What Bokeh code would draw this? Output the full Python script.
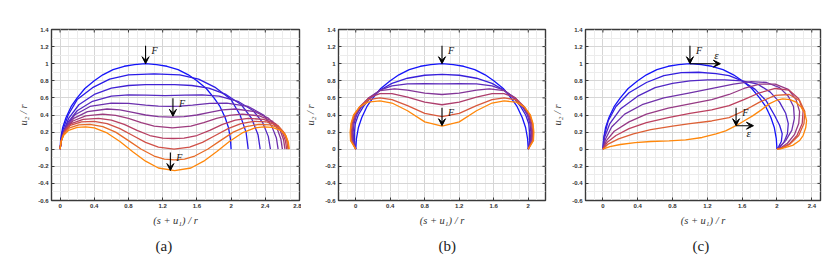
from bokeh.plotting import figure
from bokeh.models import Range1d, FixedTicker, Arrow, VeeHead, Label, Title
from bokeh.layouts import row
from bokeh.embed import file_html
from bokeh.resources import INLINE

# ---------------- data ----------------
Y_TICKS = [-0.6, -0.4, -0.2, 0, 0.2, 0.4, 0.6, 0.8, 1, 1.2, 1.4]
Y_LABELS = ["-0.6", "-0.4", "-0.2", "0", "0.2", "0.4", "0.6", "0.8", "1", "1.2", "1.4"]
XA_TICKS = [0, 0.4, 0.8, 1.2, 1.6, 2, 2.4, 2.8]
XA_LABELS = ["0", "0.4", "0.8", "1.2", "1.6", "2", "2.4", "2.8"]
XB_TICKS = [0, 0.4, 0.8, 1.2, 1.6, 2]
XB_LABELS = ["0", "0.4", "0.8", "1.2", "1.6", "2"]
XC_TICKS = [0, 0.4, 0.8, 1.2, 1.6, 2, 2.4]
XC_LABELS = ["0", "0.4", "0.8", "1.2", "1.6", "2", "2.4"]

circle_x = [0, 0.008, 0.03, 0.07, 0.13, 0.2, 0.29, 0.4, 0.5, 0.62, 0.75, 0.87, 1.0, 1.13, 1.25, 1.38, 1.5, 1.6, 1.71, 1.8, 1.87, 1.93, 1.97, 1.992, 2.0]
circle_y = [0, 0.125, 0.25, 0.37, 0.5, 0.6, 0.71, 0.8, 0.87, 0.93, 0.97, 0.99, 1.0, 0.99, 0.97, 0.93, 0.87, 0.8, 0.71, 0.6, 0.5, 0.37, 0.25, 0.125, 0]

curves_a_x = [
    circle_x,
    [0, 0.025, 0.095, 0.2, 0.38, 0.58, 0.8, 1.1, 1.4, 1.62, 1.82, 2.0, 2.105, 2.175, 2.2],
    [0, 0.025, 0.1, 0.22, 0.4, 0.6, 0.8, 1.0, 1.17, 1.34, 1.54, 1.74, 1.94, 2.12, 2.24, 2.315, 2.34],
    [0, 0.025, 0.09, 0.2, 0.38, 0.6, 0.8, 1.0, 1.23, 1.46, 1.66, 1.86, 2.08, 2.26, 2.37, 2.435, 2.46],
    [0, 0.02, 0.075, 0.17, 0.35, 0.6, 0.8, 1.0, 1.15, 1.275, 1.4, 1.55, 1.75, 1.95, 2.2, 2.38, 2.475, 2.53, 2.55],
    [0, 0.018, 0.065, 0.16, 0.32, 0.55, 0.7, 0.85, 1.0, 1.15, 1.3, 1.45, 1.6, 1.75, 1.9, 2.05, 2.28, 2.44, 2.535, 2.582, 2.6],
    [0, 0.016, 0.06, 0.15, 0.3, 0.5, 0.65, 0.8, 0.95, 1.1, 1.315, 1.53, 1.68, 1.83, 1.98, 2.13, 2.33, 2.48, 2.57, 2.614, 2.63],
    [0, 0.015, 0.055, 0.13, 0.27, 0.45, 0.6, 0.75, 0.9, 1.05, 1.2, 1.325, 1.45, 1.6, 1.75, 1.9, 2.05, 2.2, 2.38, 2.52, 2.595, 2.635, 2.65],
    [0, 0.014, 0.05, 0.12, 0.25, 0.4, 0.55, 0.7, 0.85, 1.0, 1.15, 1.333, 1.515, 1.665, 1.815, 1.965, 2.115, 2.265, 2.415, 2.545, 2.615, 2.651, 2.665],
    [0, 0.012, 0.045, 0.11, 0.22, 0.35, 0.5, 0.65, 0.8, 0.95, 1.1, 1.22, 1.338, 1.455, 1.575, 1.725, 1.875, 2.025, 2.175, 2.325, 2.455, 2.565, 2.63, 2.663, 2.675],
    [0, 0.01, 0.04, 0.1, 0.2, 0.3, 0.4, 0.55, 0.7, 0.85, 1.0, 1.15, 1.34, 1.53, 1.68, 1.83, 1.98, 2.13, 2.28, 2.38, 2.48, 2.58, 2.64, 2.67, 2.68],
]
curves_a_y = [
    circle_y,
    [0, 0.2, 0.4, 0.58, 0.72, 0.82, 0.87, 0.88, 0.87, 0.82, 0.72, 0.58, 0.4, 0.2, 0],
    [0, 0.17, 0.36, 0.52, 0.64, 0.715, 0.745, 0.755, 0.756, 0.755, 0.745, 0.715, 0.64, 0.52, 0.36, 0.17, 0],
    [0, 0.15, 0.31, 0.45, 0.56, 0.62, 0.635, 0.632, 0.627, 0.632, 0.635, 0.62, 0.56, 0.45, 0.31, 0.15, 0],
    [0, 0.13, 0.27, 0.4, 0.5, 0.54, 0.535, 0.515, 0.503, 0.5, 0.503, 0.515, 0.535, 0.54, 0.5, 0.4, 0.27, 0.13, 0],
    [0, 0.12, 0.25, 0.36, 0.44, 0.47, 0.46, 0.43, 0.4, 0.38, 0.375, 0.38, 0.4, 0.43, 0.46, 0.47, 0.44, 0.36, 0.25, 0.12, 0],
    [0, 0.11, 0.23, 0.33, 0.39, 0.41, 0.395, 0.36, 0.31, 0.27, 0.25, 0.27, 0.31, 0.36, 0.395, 0.41, 0.39, 0.33, 0.23, 0.11, 0],
    [0, 0.1, 0.21, 0.3, 0.35, 0.36, 0.34, 0.29, 0.22, 0.16, 0.13, 0.125, 0.13, 0.16, 0.22, 0.29, 0.34, 0.36, 0.35, 0.3, 0.21, 0.1, 0],
    [0, 0.1, 0.2, 0.28, 0.32, 0.325, 0.3, 0.24, 0.16, 0.08, 0.025, 0, 0.025, 0.08, 0.16, 0.24, 0.3, 0.325, 0.32, 0.28, 0.2, 0.1, 0],
    [0, 0.09, 0.18, 0.25, 0.285, 0.29, 0.265, 0.2, 0.1, 0.0, -0.08, -0.115, -0.125, -0.115, -0.08, 0.0, 0.1, 0.2, 0.265, 0.29, 0.285, 0.25, 0.18, 0.09, 0],
    [0, 0.08, 0.16, 0.22, 0.255, 0.26, 0.25, 0.19, 0.09, -0.03, -0.14, -0.22, -0.25, -0.22, -0.14, -0.03, 0.09, 0.19, 0.25, 0.26, 0.255, 0.22, 0.16, 0.08, 0],
]

curves_b_x = [
    circle_x,
    [0, -0.015, -0.015, -0.005, 0.03, 0.09, 0.17, 0.28, 0.42, 0.6, 0.8, 1.0, 1.2, 1.4, 1.58, 1.72, 1.83, 1.91, 1.97, 2.005, 2.015, 2.015, 2.0],
    [0, -0.025, -0.03, -0.02, 0.01, 0.07, 0.16, 0.28, 0.42, 0.6, 0.8, 1.0, 1.2, 1.4, 1.58, 1.72, 1.84, 1.93, 1.99, 2.02, 2.03, 2.025, 2.0],
    [0, -0.035, -0.04, -0.03, 0.0, 0.06, 0.15, 0.28, 0.45, 0.6, 0.8, 1.0, 1.2, 1.4, 1.55, 1.72, 1.85, 1.94, 2.0, 2.03, 2.04, 2.035, 2.0],
    [0, -0.045, -0.05, -0.04, -0.01, 0.05, 0.15, 0.28, 0.42, 0.6, 0.8, 1.0, 1.2, 1.4, 1.58, 1.72, 1.85, 1.95, 2.01, 2.04, 2.05, 2.045, 2.0],
    [0, -0.055, -0.06, -0.05, -0.02, 0.05, 0.15, 0.28, 0.42, 0.6, 0.8, 1.0, 1.2, 1.4, 1.58, 1.72, 1.85, 1.95, 2.02, 2.05, 2.06, 2.055, 2.0],
    [0, -0.06, -0.065, -0.055, -0.025, 0.04, 0.14, 0.28, 0.42, 0.6, 0.8, 1.0, 1.2, 1.4, 1.58, 1.72, 1.86, 1.96, 2.025, 2.055, 2.065, 2.06, 2.0],
]
curves_b_y = [
    circle_y,
    [0, 0.1, 0.2, 0.3, 0.4, 0.5, 0.6, 0.69, 0.77, 0.83, 0.865, 0.875, 0.865, 0.83, 0.77, 0.69, 0.6, 0.5, 0.4, 0.3, 0.2, 0.1, 0],
    [0, 0.1, 0.2, 0.3, 0.4, 0.5, 0.6, 0.69, 0.74, 0.765, 0.768, 0.765, 0.768, 0.765, 0.74, 0.69, 0.6, 0.5, 0.4, 0.3, 0.2, 0.1, 0],
    [0, 0.1, 0.2, 0.3, 0.4, 0.5, 0.6, 0.685, 0.705, 0.69, 0.655, 0.64, 0.655, 0.69, 0.705, 0.685, 0.6, 0.5, 0.4, 0.3, 0.2, 0.1, 0],
    [0, 0.1, 0.2, 0.3, 0.4, 0.5, 0.6, 0.65, 0.65, 0.61, 0.55, 0.52, 0.55, 0.61, 0.65, 0.65, 0.6, 0.5, 0.4, 0.3, 0.2, 0.1, 0],
    [0, 0.1, 0.2, 0.3, 0.4, 0.5, 0.58, 0.6, 0.58, 0.51, 0.42, 0.38, 0.42, 0.51, 0.58, 0.6, 0.58, 0.5, 0.4, 0.3, 0.2, 0.1, 0],
    [0, 0.1, 0.2, 0.3, 0.4, 0.49, 0.55, 0.565, 0.54, 0.45, 0.32, 0.27, 0.32, 0.45, 0.54, 0.565, 0.55, 0.49, 0.4, 0.3, 0.2, 0.1, 0],
]

curves_c_x = [
    circle_x,
    [0, 0.015, 0.06, 0.15, 0.3, 0.5, 0.7, 0.9, 1.1, 1.3, 1.45, 1.6, 1.75, 1.88, 1.97, 2.03, 2.06, 2.05, 2.02, 2.0],
    [0, 0.02, 0.08, 0.2, 0.4, 0.6, 0.8, 1.0, 1.2, 1.4, 1.6, 1.78, 1.92, 2.03, 2.1, 2.13, 2.12, 2.08, 2.03, 2.0],
    [0, 0.03, 0.1, 0.25, 0.45, 0.7, 1.0, 1.3, 1.5, 1.7, 1.88, 2.03, 2.13, 2.19, 2.2, 2.17, 2.1, 2.03, 2.0],
    [0, 0.04, 0.13, 0.3, 0.5, 0.75, 1.0, 1.25, 1.45, 1.62, 1.8, 1.98, 2.13, 2.22, 2.26, 2.25, 2.2, 2.12, 2.04, 2.0],
    [0, 0.05, 0.15, 0.3, 0.5, 0.75, 1.0, 1.25, 1.45, 1.62, 1.8, 1.98, 2.14, 2.25, 2.3, 2.29, 2.23, 2.14, 2.05, 2.0],
    [0, 0.06, 0.18, 0.35, 0.55, 0.8, 1.0, 1.25, 1.45, 1.62, 1.8, 1.98, 2.14, 2.26, 2.32, 2.31, 2.25, 2.15, 2.05, 2.0],
    [0, 0.08, 0.2, 0.37, 0.55, 0.76, 0.95, 1.14, 1.3, 1.41, 1.53, 1.62, 1.72, 1.82, 1.91, 1.99, 2.065, 2.15, 2.22, 2.28, 2.32, 2.34, 2.33, 2.3, 2.257, 2.18, 2.1, 2.04, 2.0],
]
curves_c_y = [
    circle_y,
    [0, 0.15, 0.33, 0.5, 0.66, 0.78, 0.86, 0.895, 0.9, 0.885, 0.86, 0.8, 0.7, 0.56, 0.4, 0.28, 0.18, 0.09, 0.03, 0],
    [0, 0.14, 0.3, 0.47, 0.62, 0.72, 0.77, 0.8, 0.81, 0.81, 0.8, 0.76, 0.67, 0.55, 0.42, 0.3, 0.18, 0.08, 0.02, 0],
    [0, 0.12, 0.26, 0.41, 0.52, 0.6, 0.66, 0.72, 0.76, 0.79, 0.78, 0.72, 0.62, 0.5, 0.36, 0.22, 0.1, 0.03, 0],
    [0, 0.1, 0.21, 0.32, 0.41, 0.48, 0.53, 0.58, 0.64, 0.71, 0.76, 0.76, 0.7, 0.58, 0.44, 0.3, 0.17, 0.07, 0.015, 0],
    [0, 0.08, 0.16, 0.24, 0.31, 0.37, 0.42, 0.46, 0.51, 0.58, 0.66, 0.71, 0.69, 0.59, 0.45, 0.3, 0.16, 0.06, 0.012, 0],
    [0, 0.06, 0.12, 0.18, 0.23, 0.27, 0.3, 0.33, 0.37, 0.45, 0.55, 0.63, 0.64, 0.57, 0.44, 0.3, 0.16, 0.06, 0.01, 0],
    [0, 0.03, 0.055, 0.078, 0.09, 0.098, 0.11, 0.137, 0.18, 0.215, 0.275, 0.33, 0.39, 0.46, 0.53, 0.57, 0.588, 0.58, 0.55, 0.49, 0.42, 0.333, 0.25, 0.16, 0.098, 0.045, 0.02, 0.005, 0],
]

# load points (tips of the F arrows) and eps arrows
loads_a = [(1.0, 1.0), (1.32, 0.385), (1.29, -0.25)]
loads_b = [(1.0, 1.0), (1.0, 0.275)]
loads_c = [(1.0, 1.0), (1.53, 0.275)]
eps_c = [(1.0, 1.0), (1.53, 0.275)]

CAPTIONS = ["(a)", "(b)", "(c)"]

# ---------------- style helpers ----------------
SERIF = "Liberation Serif"
SANS = "Liberation Sans"
FRAME_COL = "#3a3a3a"


def ramp(n):
    stops = [(0.0, (20, 20, 250)), (0.45, (118, 52, 165)), (0.75, (196, 66, 86)), (1.0, (255, 135, 10))]
    out = []
    for i in range(n):
        t = i / (n - 1)
        for (t0, c0), (t1, c1) in zip(stops[:-1], stops[1:]):
            if t0 <= t <= t1:
                f = (t - t0) / (t1 - t0)
                out.append("#%02x%02x%02x" % tuple(int(round(c0[k] + (c1[k] - c0[k]) * f)) for k in range(3)))
                break
    return out


def minor_list(lo, hi, step):
    vals = []
    v = lo
    while v <= hi + 1e-9:
        vals.append(round(v, 4))
        v += step
    return vals


def make_panel(xr, frame_w, bl, br, xticks, xlabels, caption, cap_offset):
    H_TOP, H_FRAME, H_BOT = 29, 171, 65
    p = figure(width=bl + frame_w + br, height=H_TOP + H_FRAME + H_BOT,
               x_range=Range1d(*xr), y_range=Range1d(-0.6, 1.4),
               output_backend="svg", toolbar_location=None,
               min_border_left=bl, min_border_right=br,
               min_border_top=H_TOP, min_border_bottom=H_BOT,
               x_axis_label="(s + u\u2081) / r", y_axis_label="u\u2082 / r")
    p.background_fill_color = "white"
    p.border_fill_color = "white"
    p.outline_line_color = FRAME_COL
    p.outline_line_width = 1.4

    xt = FixedTicker(ticks=xticks, minor_ticks=minor_list(xr[0], xr[1], 0.1))
    yt = FixedTicker(ticks=Y_TICKS, minor_ticks=minor_list(-0.6, 1.4, 0.1))
    p.xaxis.ticker = xt
    p.yaxis.ticker = yt
    p.xgrid.ticker = xt
    p.ygrid.ticker = yt
    p.xaxis.major_label_overrides = {t: l for t, l in zip(xticks, xlabels)}
    p.yaxis.major_label_overrides = {t: l for t, l in zip(Y_TICKS, Y_LABELS)}
    for ax in (p.xaxis[0], p.yaxis[0]):
        ax.major_label_text_font = SANS
        ax.major_label_text_font_size = "6px"
        ax.major_label_text_font_style = "bold"
        ax.major_label_text_color = "#333333"
        ax.major_tick_in = 3
        ax.major_tick_out = 0
        ax.minor_tick_in = 0
        ax.minor_tick_out = 0
        ax.axis_line_color = FRAME_COL
        ax.major_tick_line_color = FRAME_COL
        ax.axis_label_text_font = SERIF
        ax.axis_label_text_font_style = "italic"
        ax.axis_label_text_font_size = "10.5px"
        ax.axis_label_text_color = "#333333"
    p.xaxis.major_label_standoff = 3
    p.yaxis.major_label_standoff = 3
    p.xaxis.axis_label_standoff = 4
    p.yaxis.axis_label_standoff = 6

    # inward ticks on the top and right edges of the frame
    tl = 3.0 / 85.5
    p.segment(x0=xticks, y0=[1.4] * len(xticks), x1=xticks, y1=[1.4 - tl] * len(xticks),
              line_color=FRAME_COL, line_width=1)
    p.segment(x0=[xr[1]] * len(Y_TICKS), y0=Y_TICKS, x1=[xr[1] - tl] * len(Y_TICKS), y1=Y_TICKS,
              line_color=FRAME_COL, line_width=1)

    p.xgrid.grid_line_color = "#d6d6d6"
    p.ygrid.grid_line_color = "#d6d6d6"
    p.xgrid.minor_grid_line_color = "#ececec"
    p.ygrid.minor_grid_line_color = "#ececec"

    t = Title(text=caption, align="left", text_font=SERIF, text_font_size="15px",
              text_font_style="normal", text_color="#222222", standoff=15, offset=cap_offset)
    p.add_layout(t, "below")
    return p


def draw_curves(p, xs, ys):
    cols = ramp(len(xs))
    for x, y, c in zip(xs, ys, cols):
        p.line(x, y, line_color=c, line_width=1.3)


def load_arrow(p, x, y, lx=0.07, ly=0.15):
    p.add_layout(Arrow(end=VeeHead(size=7, fill_color="black", line_color="black"),
                       x_start=x, y_start=y + 0.21, x_end=x, y_end=y,
                       line_color="black", line_width=1.1))
    p.add_layout(Label(x=x + lx, y=y + ly, text="F", text_font=SERIF, text_font_style="italic",
                       text_font_size="10px", text_color="#111111", text_baseline="middle"))


def eps_arrow(p, x, y, length, lx, ly):
    p.add_layout(Arrow(end=VeeHead(size=7, fill_color="black", line_color="black"),
                       x_start=x, y_start=y, x_end=x + length, y_end=y,
                       line_color="black", line_width=1.1))
    p.add_layout(Label(x=x + lx, y=y + ly, text="\u03b5", text_font=SERIF, text_font_style="italic",
                       text_font_size="11px", text_color="#111111", text_baseline="middle"))


pa = make_panel((-0.1, 2.8), 248, 51, 2, XA_TICKS, XA_LABELS, CAPTIONS[0], 104)
draw_curves(pa, curves_a_x, curves_a_y)
for (x, y) in loads_a:
    load_arrow(pa, x, y)

pb = make_panel((-0.2, 2.2), 207, 37, 2, XB_TICKS, XB_LABELS, CAPTIONS[1], 100)
draw_curves(pb, curves_b_x, curves_b_y)
for (x, y) in loads_b:
    load_arrow(pb, x, y)

pc = make_panel((-0.2, 2.5), 235, 38, 2, XC_TICKS, XC_LABELS, CAPTIONS[2], 107)
draw_curves(pc, curves_c_x, curves_c_y)
for (x, y) in loads_c:
    load_arrow(pc, x, y)
eps_arrow(pc, eps_c[0][0], eps_c[0][1], 0.35, 0.28, 0.1)
eps_arrow(pc, eps_c[1][0], eps_c[1][1], 0.2, 0.12, -0.085)

layout = row(pa, pb, pc)
open("out.html", "w").write(file_html(layout, INLINE))
